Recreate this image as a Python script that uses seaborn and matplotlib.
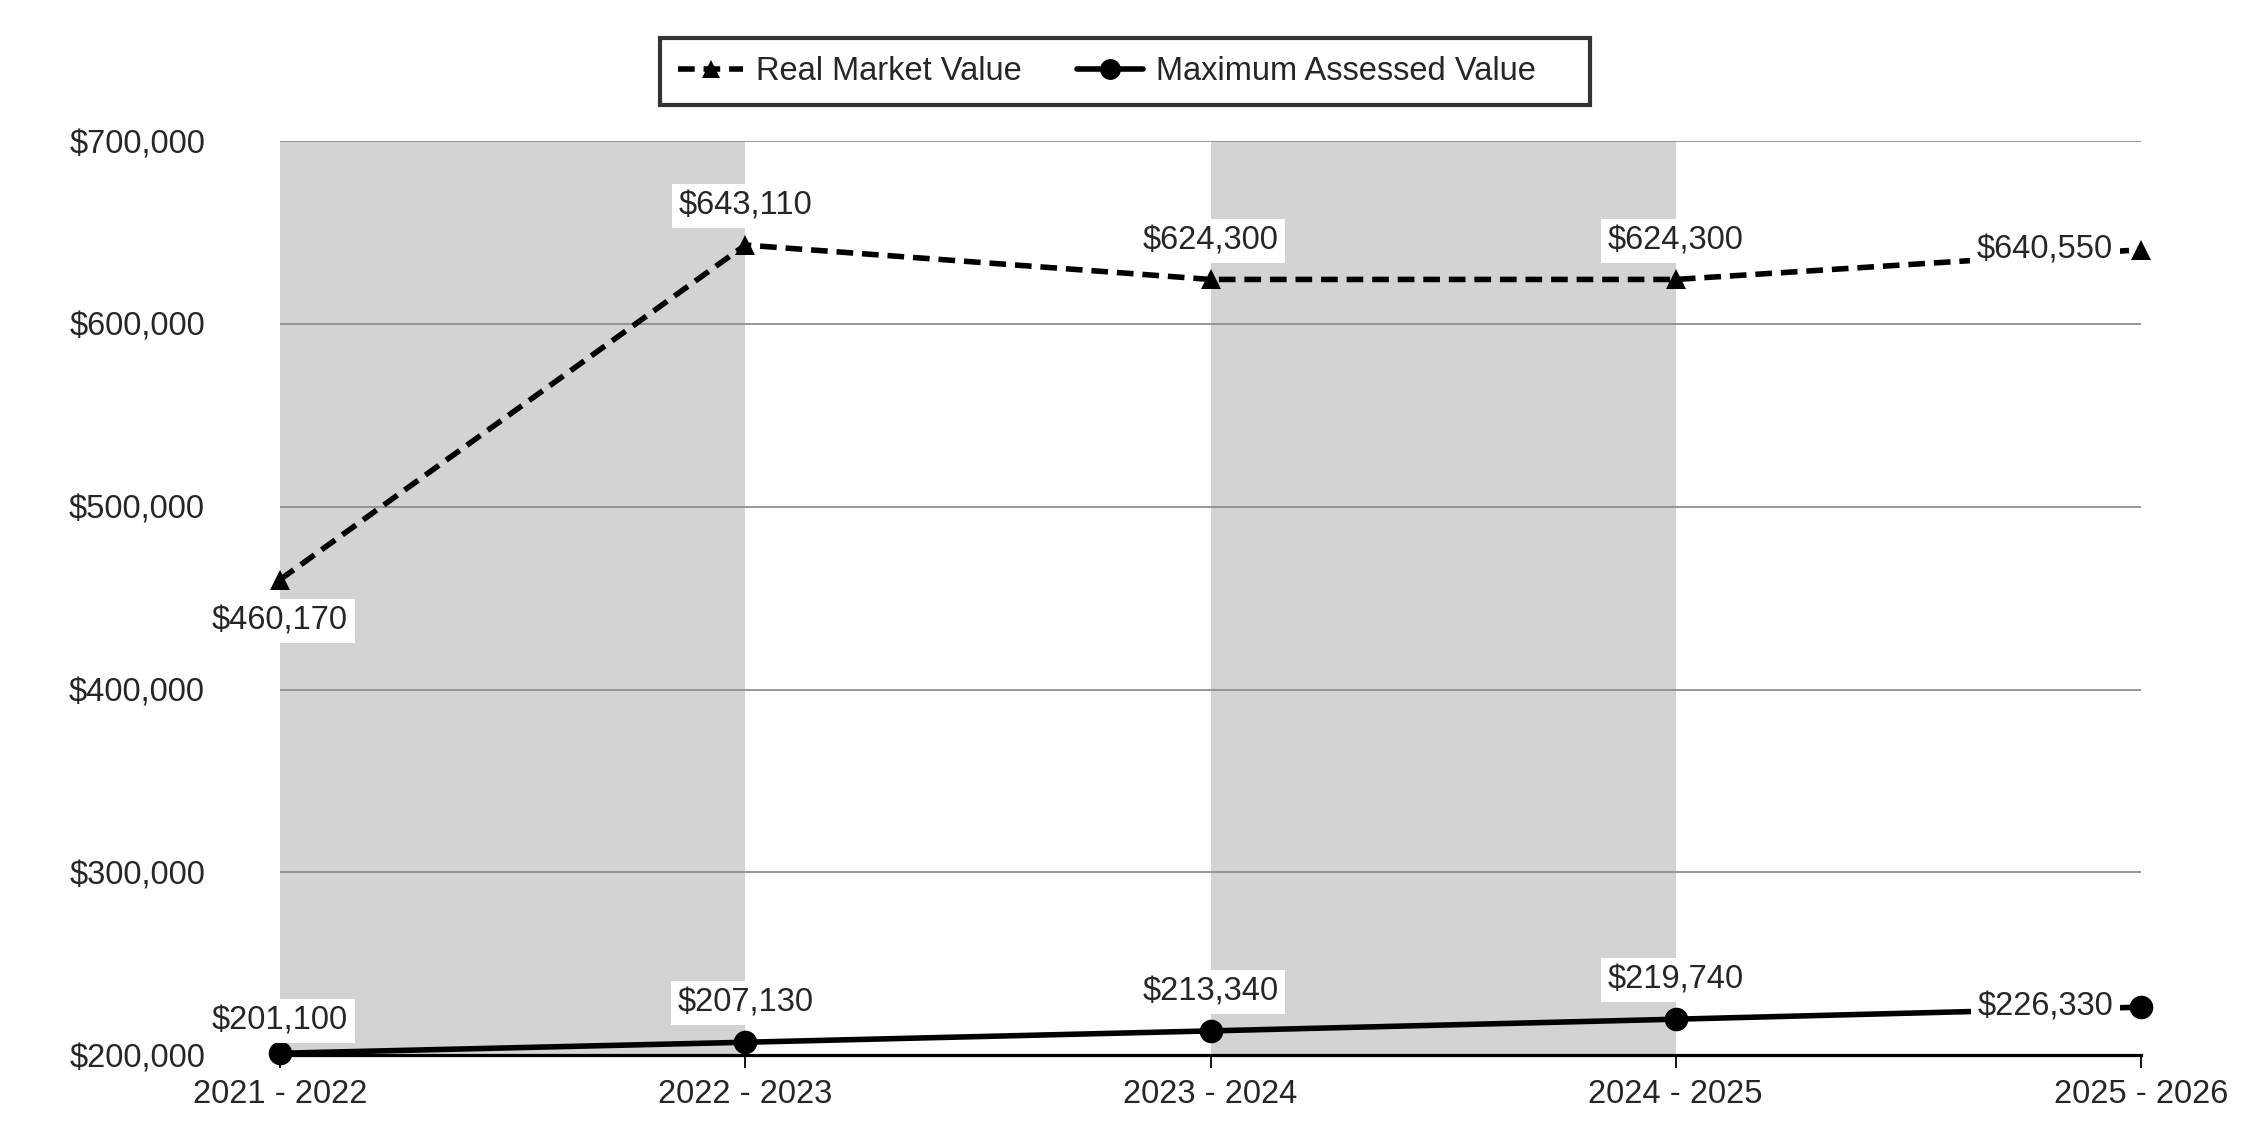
import pandas as pd
import matplotlib.pyplot as plt
import matplotlib.ticker as mticker
from matplotlib.lines import Line2D
import seaborn as sns

# Data
years = ["2021 - 2022", "2022 - 2023", "2023 - 2024", "2024 - 2025", "2025 - 2026"]
real_market = [460170, 643110, 624300, 624300, 640550]
max_assessed = [201100, 207130, 213340, 219740, 226330]

df = pd.DataFrame({"Year": years, "Real Market Value": real_market,
                   "Maximum Assessed Value": max_assessed})
df["pos"] = range(len(df))

sns.set_style("white")
plt.rcParams['font.family'] = ['Liberation Sans', 'DejaVu Sans']
FS = 23.5

fig = plt.figure(figsize=(22.5, 11.4), dpi=100)
ax = fig.add_axes([0.1245, 0.0743, 0.827, 0.802])

# alternating shaded bands
for i in range(0, len(years) - 1, 2):
    ax.axvspan(i, i + 1, color="#d3d3d3", zorder=0, lw=0)

ax.yaxis.grid(True, color="#8f8f8f", lw=1.3, zorder=1)
ax.set_axisbelow(True)

sns.lineplot(data=df, x="pos", y="Real Market Value", ax=ax, color="black",
             lw=4, marker="^", markersize=15, markeredgewidth=0, zorder=3,
             clip_on=False)
ax.lines[-1].set_dashes((3, 1.6))
sns.lineplot(data=df, x="pos", y="Maximum Assessed Value", ax=ax, color="black",
             lw=4, marker="o", markersize=17, markeredgewidth=0, zorder=3,
             clip_on=False)

# data labels
def put_label(x, y, where, dy=28):
    if where == "above":
        off, ha = (0, dy), "center"
    elif where == "below":
        off, ha = (0, -30), "center"
    else:
        off, ha = (-20, 0), "right"
    ax.annotate(f"${y:,.0f}", (x, y), xytext=off, textcoords="offset points",
                ha=ha, va="center", fontsize=FS, zorder=5, annotation_clip=False,
                bbox=dict(boxstyle="square,pad=0.2", fc="white", ec="none"))

n = len(years)
for i in range(n):
    w = "below" if i == 0 else ("left" if i == n - 1 else "above")
    put_label(i, real_market[i], w)
    # first label sits a little lower, close to the axis
    put_label(i, max_assessed[i], "left" if i == n - 1 else "above",
              dy=23 if i == 0 else 28)

ax.set_xlim(0, n - 1)
ax.set_ylim(200000, 700000)
ax.set_xticks(range(n))
ax.set_xticklabels(years)
ax.set_yticks(range(200000, 700001, 100000))
ax.yaxis.set_major_formatter(mticker.FuncFormatter(lambda v, p: f"${v:,.0f}"))
ax.tick_params(axis="y", length=0, pad=54, labelsize=FS)
ax.tick_params(axis="x", length=9, width=1.3, color="black", pad=8, labelsize=FS,
               direction="out", bottom=True)
ax.set_xlabel("")
ax.set_ylabel("")

for s in ["left", "right", "top"]:
    ax.spines[s].set_visible(False)
ax.spines["bottom"].set_color("black")
ax.spines["bottom"].set_linewidth(2.3)

handles = [
    Line2D([], [], color="black", lw=4, dashes=(3, 1.6), marker="^",
           markersize=13, markeredgewidth=0),
    Line2D([], [], color="black", lw=4, marker="o", markersize=15,
           markeredgewidth=0),
]
leg = fig.legend(handles, ["Real Market Value", "Maximum Assessed Value    "],
                 loc="center", bbox_to_anchor=(0.5, 0.937), ncol=2,
                 fontsize=FS, frameon=True, fancybox=False, handlelength=2.0,
                 handletextpad=0.4, columnspacing=1.7, borderpad=0.55,
                 borderaxespad=0)
leg.get_frame().set_edgecolor("black")
leg.get_frame().set_linewidth(3)

plt.savefig("out.png", dpi=100)
